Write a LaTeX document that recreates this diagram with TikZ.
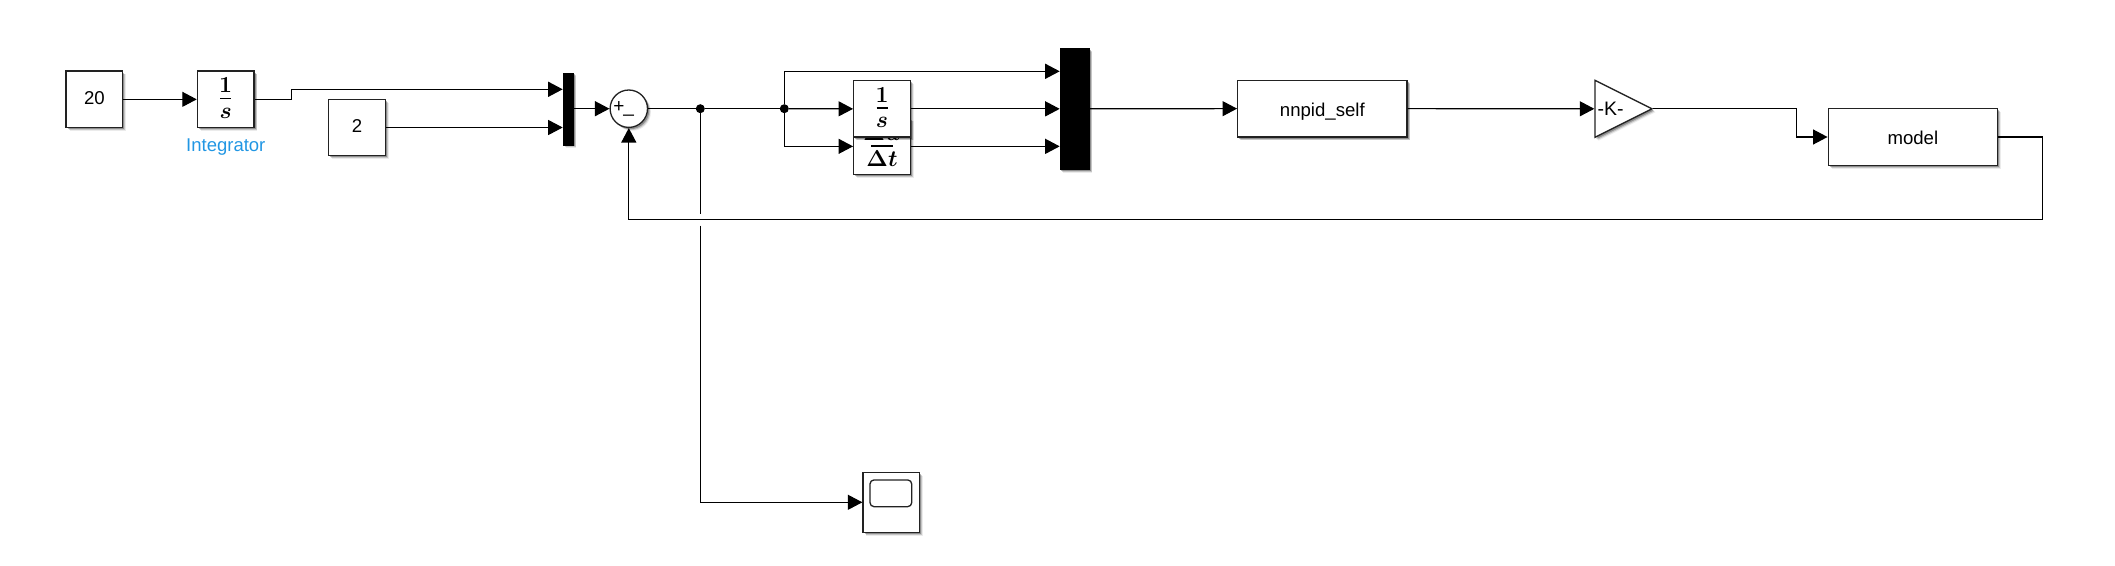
\documentclass[tikz,border=0pt]{standalone}
\usepackage{fix-cm}
\usepackage{fontspec}
\setmainfont{Liberation Sans}
\usetikzlibrary{arrows.meta,shadows,shapes.geometric}
\definecolor{blocklabel}{HTML}{2196E3}
\definecolor{edge}{HTML}{222222}
\tikzset{
  softshadow/.style={
    drop shadow={shadow xshift=3.4pt,shadow yshift=-3.4pt,opacity=.08,fill=black},
    drop shadow={shadow xshift=2.6pt,shadow yshift=-2.6pt,opacity=.16,fill=black},
    drop shadow={shadow xshift=1.7pt,shadow yshift=-1.7pt,opacity=.28,fill=black}},
  blockbox/.style={draw=edge,line width=1.3pt,fill=white,inner sep=0pt,softshadow,font=\fontsize{18.6}{20}\selectfont},
  muxbar/.style={draw=black,fill=black,inner sep=0pt,softshadow},
  wire/.style={line width=1.15pt,draw=black},
  feed/.style={wire,-{Triangle[length=14.5pt,width=15pt]}},
  dotnode/.style={circle,fill=black,inner sep=0pt,minimum size=9pt},
  sign/.style={inner sep=0pt,font=\fontsize{19}{20}\selectfont},
  mathtxt/.style={inner sep=0pt,font=\fontsize{23}{25}\selectfont\boldmath},
  fracbar/.style={line width=1.6pt,draw=black},
}
\begin{document}
\begin{tikzpicture}[x=1pt,y=-1pt]
\useasboundingbox (0,0) rectangle (2115,565);
% blocks
\node[blockbox,minimum width=56.5pt,minimum height=56.7pt,text height=10.5pt,text depth=0pt] (c20) at (94.35,99.35) {20};
\node[blockbox,minimum width=56.5pt,minimum height=56.7pt] (int) at (225.65,99.35) {};
\node[mathtxt] (intone) at (225.65,85) {$1$};
\node[mathtxt] (ints) at (225.65,113.3) {$s$};
\draw[fracbar] (220,98.4) -- (231.3,98.4);
\node[inner sep=0pt,text=blocklabel,font=\fontsize{18.5}{20}\selectfont] (intlabel) at (225.8,147) {Integrator};
\node[blockbox,minimum width=56.5pt,minimum height=56.4pt,text height=9.5pt,text depth=0pt] (c2) at (356.95,127.5) {2};
\node[muxbar,minimum width=10.3pt,minimum height=72pt] (mux1) at (567.85,108.7) {};
\node[blockbox,circle,minimum size=37.4pt] (sum) at (628.8,108.7) {};
\node[sign] (plus) at (619,107.5) {+};
\node[sign] (minus) at (628.7,114.5) {\_};
% derivative block, partly hidden by the block on top of it
\node[blockbox,minimum width=56.6pt,minimum height=56.7pt] (dt) at (882,146.35) {};
\node[mathtxt,anchor=base] (dtnum) at (882,140) {$\Delta u$};
\draw[fracbar] (871,146) -- (893,146);
\node[mathtxt] (dtden) at (882,158.5) {$\Delta t$};
\node[blockbox,minimum width=56.6pt,minimum height=56.3pt] (oneovers) at (882,108.85) {};
\node[mathtxt] (sone) at (882,95) {$1$};
\node[mathtxt] (ss) at (882,122.7) {$s$};
\draw[fracbar] (876.5,107.7) -- (887.5,107.7);
\node[muxbar,minimum width=29.3pt,minimum height=121pt] (mux2) at (1074.35,108.8) {};
\node[blockbox,minimum width=169.3pt,minimum height=56.7pt,text height=16pt,text depth=0pt] (nnpid) at (1322.35,108.65) {nnpid\_self};
\node[blockbox,isosceles triangle,isosceles triangle apex angle=56,isosceles triangle stretches,minimum width=57pt,minimum height=57pt,shape border rotate=0,anchor=lower side] (gain) at (1594.3,108.8) {};
\node[inner sep=0pt,font=\fontsize{19.5}{20}\selectfont] (gaintxt) at (1610.7,108.8) {-K-};
\node[blockbox,minimum width=169.3pt,minimum height=56.6pt,text height=15.3pt,text depth=0pt] (model) at (1912.85,137) {model};
\node[blockbox,minimum width=56.7pt,minimum height=60pt] (scope) at (891.35,502.3) {};
\node[draw=edge,line width=1.3pt,rounded corners=4pt,inner sep=0pt,minimum width=41.7pt,minimum height=26.7pt] (screen) at (890.85,493.3) {};
% named bend and port points
\coordinate (j1) at (291.5,99.35);
\coordinate (j2) at (291.5,89.3);
\coordinate (muxa) at (562.7,89.3);
\coordinate (muxb) at (562.7,127.5);
\coordinate (up) at (784.3,71.3);
\coordinate (upend) at (1059.7,71.3);
\coordinate (low) at (784.3,146.35);
\coordinate (lowend) at (1059.7,146.35);
\coordinate (midend) at (1059.7,108.85);
\coordinate (g1) at (1796.4,108.8);
\coordinate (g2) at (1796.4,137);
\coordinate (r1) at (2042.5,137);
\coordinate (r2) at (2042.5,219.3);
\coordinate (r3) at (628.8,219.3);
\coordinate (hopa) at (700.3,213.5);
\coordinate (hopb) at (700.3,225.5);
\coordinate (s1) at (700.3,502.3);
% connectors
\draw[feed] (c20.east) -- (int.west);
\draw[feed] (int.east) -- (j1) -- (j2) -- (muxa);
\draw[feed] (c2.east) -- (muxb);
\draw[feed] (mux1.east) -- (sum.west);
\draw[feed] (model.east) -- (r1) -- (r2) -- (r3) -- (sum.south);
\node[dotnode] (dot1) at (700.3,108.7) {};
\node[dotnode] (dot2) at (784.3,108.7) {};
\draw[wire] (sum.east) -- (dot1);
\draw[wire] (dot1) -- (dot2);
\draw[wire] (dot1) -- (hopa);
\draw[feed] (hopb) -- (s1) -- (scope.west);
\draw[feed] (dot2) -- (oneovers.west);
\draw[feed] (dot2) -- (up) -- (upend);
\draw[feed] (dot2) -- (low) -- (dt.west);
\draw[feed] (oneovers.east) -- (midend);
\draw[feed] (dt.east) -- (lowend);
\draw[feed] (mux2.east) -- (nnpid.west);
\draw[feed] (nnpid.east) -- (gain.lower side);
\draw[feed] (gain.apex) -- (g1) -- (g2) -- (model.west);
\end{tikzpicture}
\end{document}
